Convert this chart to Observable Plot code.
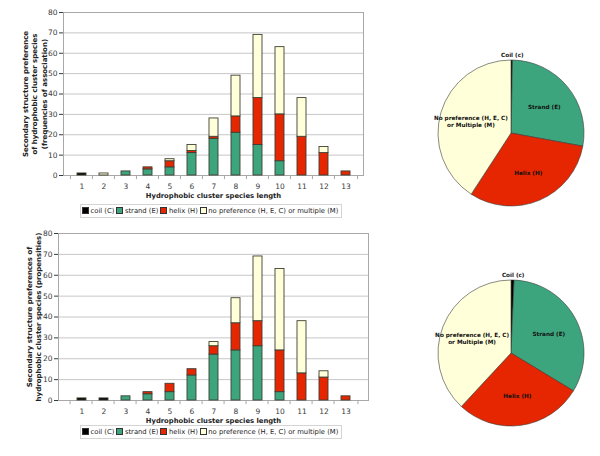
<!DOCTYPE html>
<html><head><meta charset="utf-8">
<script src="https://cdn.jsdelivr.net/npm/d3@7"></script>
<script src="https://cdn.jsdelivr.net/npm/@observablehq/plot@0.6"></script>
<style>
body{margin:0;background:#fff;font-family:"DejaVu Sans",Verdana,sans-serif;}
#root{position:relative;width:600px;height:456px;overflow:hidden;background:#fff;}
.legend{position:absolute;border:1px solid #d4d4d4;font-size:6.8px;color:#222;white-space:nowrap;line-height:12px;padding:0 1px 0 1px;background:#fff;}
.sw{display:inline-block;width:5px;height:5px;border:1px solid #333;margin-right:1.5px;vertical-align:-0.5px;}
.item{margin-right:2px;}
</style></head><body><div id="root"></div>
<script>
// ---------- data ----------
const lengths = ["1","2","3","4","5","6","7","8","9","10","11","12","13"];
const seriesNames = ["coil (C)", "strand (E)", "helix (H)", "no preference (H, E, C) or multiple (M)"];
const pieLabels = ["Coil (c)", "Strand (E)", "Helix (H)", "No preference (H, E, C)\nor Multiple (M)"];
const seriesColors = ["#000000", "#3da57d", "#e52600", "#ffffd9"];
const yTicks = [0, 10, 20, 30, 40, 50, 60, 70, 80];

// frequencies of association (top)
const freqCoil   = [1, 0, 0, 0, 0, 0, 0, 0, 0, 0, 0, 0, 0];
const freqStrand = [0, 0, 2, 3, 4, 11, 18, 21, 15, 7, 0, 0, 0];
const freqHelix  = [0, 0, 0, 1, 3, 1, 1, 8, 23, 23, 19, 11, 2];
const freqNone   = [0, 1, 0, 0, 1, 3, 9, 20, 31, 33, 19, 3, 0];

// propensities (bottom)
const propCoil   = [1, 1, 0, 0, 0, 0, 0, 0, 0, 0, 0, 0, 0];
const propStrand = [0, 0, 2, 3, 4, 12, 22, 24, 26, 4, 0, 0, 0];
const propHelix  = [0, 0, 0, 1, 4, 3, 4, 13, 12, 20, 13, 11, 2];
const propNone   = [0, 0, 0, 0, 0, 0, 2, 12, 31, 39, 25, 3, 0];

const xTitle = "Hydrophobic cluster species length";
const yTitleTop = "Secondary structure preference\nof hydrophobic cluster species\n(frequencies of association)";
const yTitleBottom = "Secondary structure preferences of\nhydrophobic cluster species (propensities)";

// ---------- helpers ----------
const root = document.getElementById("root");
const FONT = "'DejaVu Sans', Verdana, sans-serif";

function place(el, left, top) {
  el.style.position = "absolute";
  el.style.left = left + "px";
  el.style.top = top + "px";
  root.appendChild(el);
}

function barChart(series, o) {
  const data = [];
  series.forEach((vals, s) => vals.forEach((v, i) => {
    if (v > 0) data.push({len: lengths[i], series: seriesNames[s], value: v});
  }));
  const step = (o.width - o.ml - o.mr) / lengths.length;
  return Plot.plot({
    width: o.width, height: o.height,
    marginLeft: o.ml, marginRight: o.mr, marginTop: o.mt, marginBottom: o.mb,
    style: {fontFamily: FONT, fontSize: "7.5px", color: "#3a3a3a", background: "transparent", overflow: "visible"},
    x: {domain: lengths, padding: 0.6, label: null, tickSize: 0, tickPadding: 8},
    y: {domain: [0, 80], ticks: yTicks, label: null, tickSize: 4, tickPadding: 2},
    color: {domain: seriesNames, range: seriesColors},
    marks: [
      Plot.ruleY(yTicks, {stroke: "#c6c6c6", strokeWidth: 1}),
      Plot.frame({stroke: "#a8a8a8"}),
      Plot.ruleX(lengths, {x: d => d, dx: -step / 2, y1: 0, y2: -2, stroke: "#a8a8a8"}),
      Plot.ruleX([lengths[lengths.length - 1]], {x: d => d, dx: step / 2, y1: 0, y2: -2, stroke: "#a8a8a8"}),
      Plot.barY(data, {x: "len", y: "value", fill: "series", stroke: "#3f3f33", strokeWidth: 0.9}),
      Plot.text([o.yTitle], {text: d => d, frameAnchor: "left", rotate: -90, dx: o.titleDx,
        textAnchor: "middle", lineAnchor: "middle", lineHeight: 1.3, fontWeight: "bold", fontSize: 7, fill: "#222"}),
      Plot.text([xTitle], {text: d => d, frameAnchor: "bottom", dy: o.xTitleDy,
        fontWeight: "bold", fontSize: 6.8, fill: "#222"})
    ]
  });
}

function legend() {
  const div = document.createElement("div");
  div.className = "legend";
  seriesNames.forEach((name, i) => {
    const item = document.createElement("span");
    item.className = "item";
    const sw = document.createElement("span");
    sw.className = "sw";
    sw.style.background = seriesColors[i];
    item.appendChild(sw);
    item.appendChild(document.createTextNode(name));
    div.appendChild(item);
  });
  return div;
}

function pieChart(vals) {
  const arcs = d3.pie().sort(null).value(d => d)(vals);
  const labelData = arcs.map((a, i) => {
    const mid = (a.startAngle + a.endAngle) / 2;
    const k = i === 0 ? 1.08 : 0.58;
    return {label: pieLabels[i], x: k * Math.sin(mid), y: k * Math.cos(mid)};
  });
  return Plot.plot({
    width: 170, height: 170, margin: 12,
    style: {background: "transparent", overflow: "visible", fontFamily: FONT},
    x: {domain: [-1, 1], axis: null},
    y: {domain: [-1, 1], axis: null},
    marks: [
      (index, scales) => {
        const r = scales.x(1) - scales.x(0);
        const g = d3.create("svg:g").attr("transform", `translate(${scales.x(0)},${scales.y(0)})`);
        const arc = d3.arc().innerRadius(0).outerRadius(r);
        g.selectAll("path").data(arcs).join("path")
          .attr("d", arc)
          .attr("fill", (d, i) => seriesColors[i])
          .attr("stroke", "#3a3a3a")
          .attr("stroke-width", 0.6);
        return g.node();
      },
      Plot.text(labelData, {x: "x", y: "y", text: "label", fontWeight: "bold", fontSize: 5.7,
        lineHeight: 1.2, fill: "#111"})
    ]
  });
}

// ---------- draw ----------
place(barChart([freqCoil, freqStrand, freqHelix, freqNone],
  {width: 380, height: 200, ml: 63, mr: 17, mt: 12, mb: 25, yTitle: yTitleTop, titleDx: -29, xTitleDy: 22}), 0, 0);
place(legend(), 80, 204);

place(barChart([propCoil, propStrand, propHelix, propNone],
  {width: 380, height: 210, ml: 58, mr: 12, mt: 13, mb: 30, yTitle: yTitleBottom, titleDx: -24.5, xTitleDy: 22}), 0, 220);
place(legend(), 80, 425);

const sum = a => a.reduce((s, v) => s + v, 0);
place(pieChart([sum(freqCoil), sum(freqStrand), sum(freqHelix), sum(freqNone)]), 426, 47.5);
place(pieChart([sum(propCoil), sum(propStrand), sum(propHelix), sum(propNone)]), 426, 268);
</script>
</body></html>
